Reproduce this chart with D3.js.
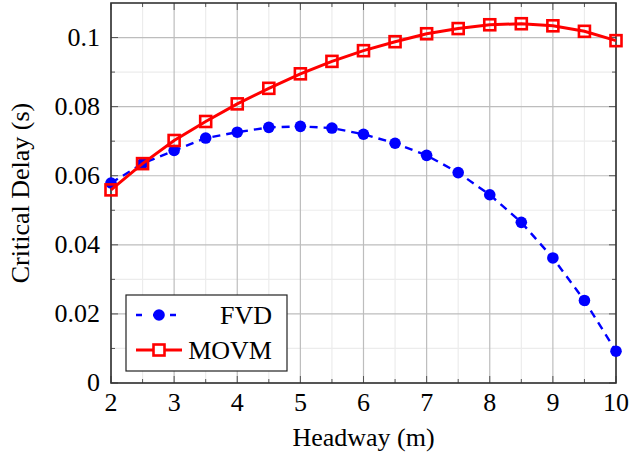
<!DOCTYPE html>
<html><head><meta charset="utf-8">
<script src="https://cdn.jsdelivr.net/npm/d3@7/dist/d3.min.js"></script>
<style>body{margin:0;background:#fff}svg{display:block}</style>
</head><body>
<script>
const headway = [2,2.5,3,3.5,4,4.5,5,5.5,6,6.5,7,7.5,8,8.5,9,9.5,10];
const fvd  = [0.0579,0.0635,0.0673,0.0709,0.0726,0.0740,0.0743,0.0738,0.0720,0.0694,0.0659,0.0609,0.0545,0.0465,0.0362,0.0239,0.0092];
const movm = [0.0559,0.0635,0.0702,0.0757,0.0808,0.0853,0.0895,0.0931,0.0962,0.0988,0.1011,0.1026,0.1037,0.1040,0.1034,0.1018,0.0991];
const xTicks = [2,3,4,5,6,7,8,9,10];
const yTicks = [0,0.02,0.04,0.06,0.08,0.1];
const xMinor = [2.5,3.5,4.5,5.5,6.5,7.5,8.5,9.5];
const yMinor = [0.01,0.03,0.05,0.07,0.09];
const seriesNames = ["FVD","MOVM"];

const W=629,H=455;
const L=111,R=616,T=3,B=383;
const FF="Liberation Serif, Times New Roman, Times, serif";
const FS="26px";
const svg=d3.select("body").append("svg").attr("width",W).attr("height",H);
const x=d3.scaleLinear().domain([2,10]).range([L,R]);
const y=d3.scaleLinear().domain([0,0.11]).range([B,T]);
function txt(sel){return sel.style("font-family",FF).style("font-size",FS).attr("fill","#000");}

// grid
const g=svg.append("g");
g.selectAll(".vmin").data(xMinor).join("line").attr("x1",d=>x(d)).attr("x2",d=>x(d)).attr("y1",T).attr("y2",B).attr("stroke","#ececec").attr("stroke-width",1.2);
g.selectAll(".hmin").data(yMinor).join("line").attr("y1",d=>y(d)).attr("y2",d=>y(d)).attr("x1",L).attr("x2",R).attr("stroke","#ececec").attr("stroke-width",1.2);
g.selectAll(".vmaj").data(xTicks).join("line").attr("x1",d=>x(d)).attr("x2",d=>x(d)).attr("y1",T).attr("y2",B).attr("stroke","#bdbdbd").attr("stroke-width",1.2);
g.selectAll(".hmaj").data(yTicks).join("line").attr("y1",d=>y(d)).attr("y2",d=>y(d)).attr("x1",L).attr("x2",R).attr("stroke","#bdbdbd").attr("stroke-width",1.2);

// ticks inside on all sides
const tk=svg.append("g").attr("stroke","#555").attr("stroke-width",1);
xTicks.forEach(d=>{tk.append("line").attr("x1",x(d)).attr("x2",x(d)).attr("y1",B).attr("y2",B-7);tk.append("line").attr("x1",x(d)).attr("x2",x(d)).attr("y1",T).attr("y2",T+7);});
xMinor.forEach(d=>{tk.append("line").attr("x1",x(d)).attr("x2",x(d)).attr("y1",B).attr("y2",B-4);tk.append("line").attr("x1",x(d)).attr("x2",x(d)).attr("y1",T).attr("y2",T+4);});
yTicks.forEach(d=>{tk.append("line").attr("y1",y(d)).attr("y2",y(d)).attr("x1",L).attr("x2",L+7);tk.append("line").attr("y1",y(d)).attr("y2",y(d)).attr("x1",R).attr("x2",R-7);});
yMinor.forEach(d=>{tk.append("line").attr("y1",y(d)).attr("y2",y(d)).attr("x1",L).attr("x2",L+4);tk.append("line").attr("y1",y(d)).attr("y2",y(d)).attr("x1",R).attr("x2",R-4);});

// tick labels
txt(svg.append("g").selectAll("text").data(xTicks).join("text").attr("x",d=>x(d)).attr("y",B+28)
  .attr("text-anchor","middle").text(d=>d));
txt(svg.append("g").selectAll("text").data(yTicks).join("text").attr("x",L-11).attr("y",d=>y(d)+8)
  .attr("text-anchor","end").text(d=>d===0?"0":d3.format("")(d)));

// axis labels
txt(svg.append("text").attr("x",(L+R)/2).attr("y",446).attr("text-anchor","middle").text("Headway (m)"));
txt(svg.append("text").attr("transform",`translate(29,${(T+B)/2}) rotate(-90)`).attr("text-anchor","middle").text("Critical Delay (s)"));

// frame
svg.append("rect").attr("x",L).attr("y",T).attr("width",R-L).attr("height",B-T).attr("fill","none").attr("stroke","#333").attr("stroke-width",1.6);

// series
const line=d3.line().x((d,i)=>x(headway[i])).y(d=>y(d));
svg.append("path").datum(fvd).attr("d",line).attr("fill","none").attr("stroke","#0000ff").attr("stroke-width",2.4).attr("stroke-dasharray","8,6");
svg.append("g").selectAll("circle").data(fvd).join("circle").attr("cx",(d,i)=>x(headway[i])).attr("cy",d=>y(d)).attr("r",5.8).attr("fill","#0000ff");
svg.append("path").datum(movm).attr("d",line).attr("fill","none").attr("stroke","#ff0000").attr("stroke-width",3);
const s=11;
svg.append("g").selectAll("rect").data(movm).join("rect").attr("x",(d,i)=>x(headway[i])-s/2).attr("y",d=>y(d)-s/2).attr("width",s).attr("height",s)
  .attr("fill","none").attr("stroke","#ff0000").attr("stroke-width",2.6);

// legend
const lg=svg.append("g");
lg.append("rect").attr("x",126).attr("y",295).attr("width",161).attr("height",76).attr("fill","#fff").attr("stroke","#222").attr("stroke-width",1.2);
lg.append("line").attr("x1",136).attr("x2",182).attr("y1",315).attr("y2",315).attr("stroke","#0000ff").attr("stroke-width",2.4).attr("stroke-dasharray","6,11");
lg.append("circle").attr("cx",159).attr("cy",315).attr("r",5.8).attr("fill","#0000ff");
lg.append("line").attr("x1",136).attr("x2",182).attr("y1",350).attr("y2",350).attr("stroke","#ff0000").attr("stroke-width",3);
lg.append("rect").attr("x",153.5).attr("y",344.5).attr("width",11).attr("height",11).attr("fill","#fff").attr("stroke","#ff0000").attr("stroke-width",2.6);
txt(lg.append("text").attr("x",272).attr("y",324).attr("text-anchor","end").text(seriesNames[0]));
txt(lg.append("text").attr("x",272).attr("y",359).attr("text-anchor","end").text(seriesNames[1]));
</script>
</body></html>
